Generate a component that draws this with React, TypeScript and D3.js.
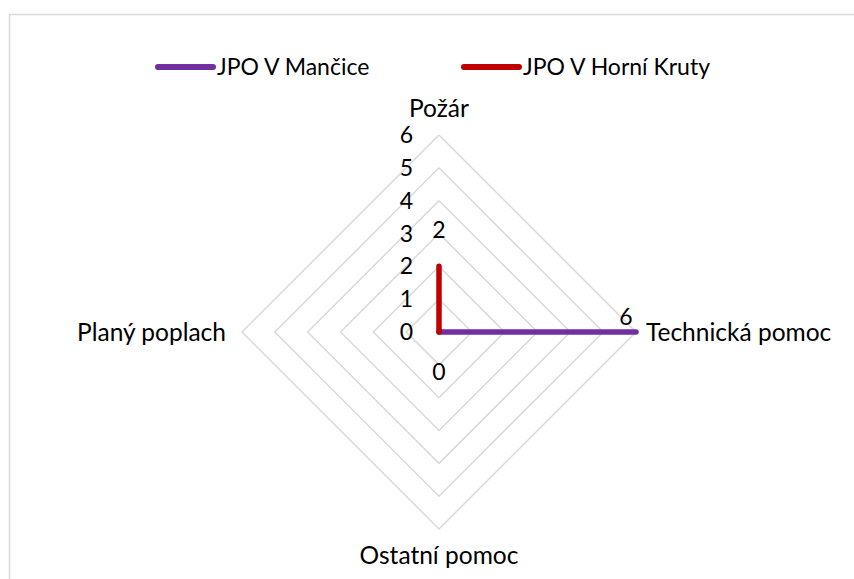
import React, { useRef, useEffect } from 'react';
import * as d3 from 'd3';

const categories = ['Požár', 'Technická pomoc', 'Ostatní pomoc', 'Planý poplach'];
const seriesNames = ['JPO V Mančice', 'JPO V Horní Kruty'];
const mancice = [0, 6, 0, 0];
const horniKruty = [2, 0, 0, 0];
const ticks = [0, 1, 2, 3, 4, 5, 6];
const colors = ['#7030A0', '#C00000'];

const FONT = 'Lato, "Open Sans", sans-serif';

const App = () => {
  const ref = useRef<HTMLDivElement>(null);

  useEffect(() => {
    if (!ref.current) return;
    d3.select(ref.current).select('svg').remove();

    const width = 854;
    const height = 579;
    const cx = 439;
    const cy = 332;

    const svg = d3.select(ref.current)
      .append('svg')
      .attr('width', width)
      .attr('height', height)
      .style('position', 'absolute')
      .style('left', 0)
      .style('top', 0)
      .style('font-family', FONT);

    svg.append('rect')
      .attr('x', 0).attr('y', 0).attr('width', width).attr('height', height)
      .attr('fill', '#fff');

    // chart border
    svg.append('rect')
      .attr('x', 9.5).attr('y', 14.5)
      .attr('width', 900).attr('height', 700)
      .attr('fill', 'none')
      .attr('stroke', '#d9d9d9')
      .attr('stroke-width', 1.5);

    const r = d3.scaleLinear().domain([0, 6]).range([0, 197]);
    const angle = d3.scaleBand().domain(categories).range([0, 2 * Math.PI]).padding(0).align(0);
    const pt = (cat: string, v: number): [number, number] => {
      const a = (angle(cat) ?? 0) - Math.PI / 2;
      return [cx + r(v) * Math.cos(a), cy + r(v) * Math.sin(a)];
    };

    const g = svg.append('g');

    // grid rings
    ticks.slice(1).forEach(t => {
      const pts = categories.map(c => pt(c, t));
      g.append('path')
        .attr('d', d3.line()([...pts, pts[0]]))
        .attr('fill', 'none')
        .attr('stroke', '#d9d9d9')
        .attr('stroke-width', 1.5);
    });

    // tick labels
    ticks.forEach(t => {
      g.append('text')
        .attr('x', 413)
        .attr('y', cy - r(t))
        .attr('dy', '0.35em')
        .attr('text-anchor', 'end')
        .attr('font-size', 23)
        .attr('fill', '#000')
        .text(String(t));
    });

    // category labels
    const catPos = [
      { x: cx, y: 108, anchor: 'middle' },
      { x: 646, y: cy, anchor: 'start' },
      { x: cx, y: 555, anchor: 'middle' },
      { x: 226, y: cy, anchor: 'end' },
    ];
    categories.forEach((c, i) => {
      g.append('text')
        .attr('x', catPos[i].x)
        .attr('y', catPos[i].y)
        .attr('dy', '0.35em')
        .attr('text-anchor', catPos[i].anchor)
        .attr('font-size', 24.5)
        .attr('fill', '#000')
        .text(c);
    });

    // series
    [mancice, horniKruty].forEach((vals, si) => {
      const pts = categories.map((c, i) => pt(c, vals[i]));
      g.append('path')
        .attr('d', d3.line()([...pts, pts[0]]))
        .attr('fill', 'none')
        .attr('stroke', colors[si])
        .attr('stroke-width', 5.5)
        .attr('stroke-linecap', 'round')
        .attr('stroke-linejoin', 'round');
    });

    // data labels
    const labels = [
      { cat: 'Požár', v: horniKruty[0], dx: 0, dy: -36 },
      { cat: 'Technická pomoc', v: mancice[1], dx: -10, dy: -15 },
      { cat: 'Ostatní pomoc', v: mancice[2], dx: 0, dy: 40 },
    ];
    labels.forEach(l => {
      const [x, y] = pt(l.cat, l.v);
      g.append('text')
        .attr('x', x + l.dx)
        .attr('y', y + l.dy)
        .attr('dy', '0.35em')
        .attr('text-anchor', 'middle')
        .attr('font-size', 23)
        .attr('fill', '#000')
        .text(String(l.v));
    });

    // legend
    const legendX = [158, 464];
    seriesNames.forEach((s, i) => {
      const lg = svg.append('g').attr('transform', `translate(${legendX[i]},67)`);
      lg.append('line')
        .attr('x1', 0).attr('x2', 55).attr('y1', 0).attr('y2', 0)
        .attr('stroke', colors[i])
        .attr('stroke-width', 6)
        .attr('stroke-linecap', 'round');
      lg.append('text')
        .attr('x', 59)
        .attr('dy', '0.35em')
        .attr('font-size', 23)
        .attr('fill', '#000')
        .text(s);
    });
  }, []);

  return <div ref={ref}></div>;
};

export default App;
